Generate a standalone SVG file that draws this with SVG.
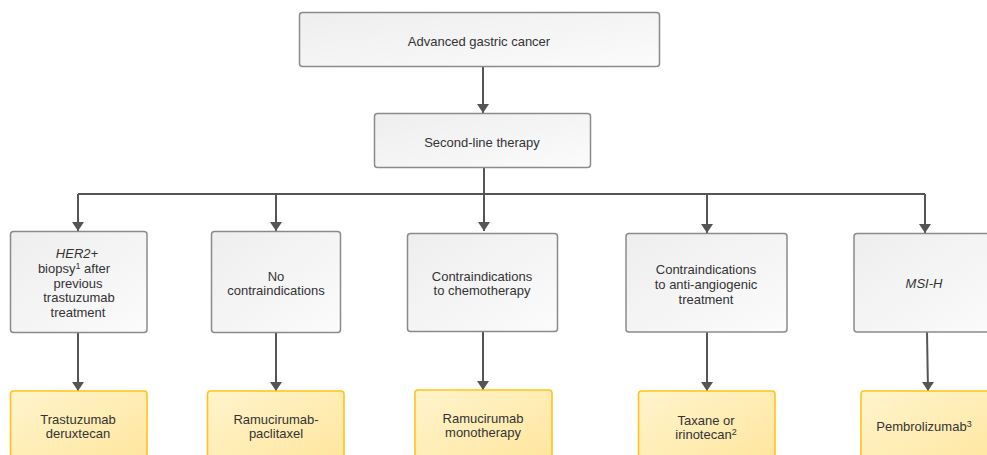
<svg xmlns="http://www.w3.org/2000/svg" width="987" height="455" viewBox="0 0 987 455">
<defs>
<linearGradient id="gGray" x1="0" y1="0" x2="1" y2="1">
<stop offset="0" stop-color="#eeeeee"/>
<stop offset="1" stop-color="#fbfbfb"/>
</linearGradient>
<linearGradient id="gYel" x1="0" y1="0" x2="1" y2="1">
<stop offset="0" stop-color="#fff4cc"/>
<stop offset="1" stop-color="#ffe59c"/>
</linearGradient>
<marker id="arr" markerUnits="userSpaceOnUse" markerWidth="14" markerHeight="10" viewBox="0 0 14 10" refX="7" refY="9" orient="auto-start-reverse">
<path d="M1,0 L13,0 L7,9 Z" fill="#555555"/>
</marker>
<marker id="arrd" markerUnits="userSpaceOnUse" markerWidth="14" markerHeight="10" viewBox="-7 -9 14 10" refX="0" refY="0" orient="0">
<path d="M-6,-9 L6,-9 L0,0 Z" fill="#555555"/>
</marker>
</defs>
<style>
.g{fill:url(#gGray);stroke:#8a8a8a;stroke-width:1.5}
.y{fill:url(#gYel);stroke:#ffc31a;stroke-width:1.6}
text{font-family:"Liberation Sans",Arial,sans-serif;font-size:13px;fill:#333333;text-anchor:middle}
.it{font-style:italic}
.sup{font-size:9px}
.c{fill:none;stroke:#555555;stroke-width:2}
</style>
<g id="connectors">
<path class="c" d="M483,67 V113" marker-end="url(#arrd)"/>
<path class="c" d="M484,167 V231" marker-end="url(#arrd)"/>
<path class="c" d="M78,194 H925"/>
<path class="c" d="M78,194 V231" marker-end="url(#arrd)"/>
<path class="c" d="M276,194 V231" marker-end="url(#arrd)"/>
<path class="c" d="M707,194 V233" marker-end="url(#arrd)"/>
<path class="c" d="M925,194 V233" marker-end="url(#arrd)"/>
<path class="c" d="M78,332 V391" marker-end="url(#arrd)"/>
<path class="c" d="M276,332 V391" marker-end="url(#arrd)"/>
<path class="c" d="M483,331 V390" marker-end="url(#arrd)"/>
<path class="c" d="M707,332 V391" marker-end="url(#arrd)"/>
<path class="c" d="M927,332 L928,391" marker-end="url(#arrd)"/>
</g>
<g id="n_advanced">
<rect class="g" x="299.5" y="12.5" width="360" height="54" rx="3"/>
<text x="479" y="46">Advanced gastric cancer</text>
</g>
<g id="n_second">
<rect class="g" x="374.5" y="113.5" width="216" height="54" rx="3"/>
<text x="482" y="147">Second-line therapy</text>
</g>
<g id="n_her2">
<rect class="g" x="10.5" y="231.5" width="136.5" height="101" rx="3"/>
<text x="77" y="258"><tspan class="it">HER2+</tspan></text>
<text x="74" y="273">biopsy<tspan class="sup" baseline-shift="4">1</tspan> after</text>
<text x="78" y="288">previous</text>
<text x="79" y="302">trastuzumab</text>
<text x="78" y="317">treatment</text>
</g>
<g id="n_nocontra">
<rect class="g" x="211.5" y="231.5" width="129" height="101" rx="3"/>
<text x="276" y="281">No</text>
<text x="276" y="295">contraindications</text>
</g>
<g id="n_chemo">
<rect class="g" x="407.5" y="233.5" width="150" height="98" rx="3"/>
<text x="482" y="281">Contraindications</text>
<text x="482" y="295">to chemotherapy</text>
</g>
<g id="n_antiang">
<rect class="g" x="626" y="233.5" width="161" height="98.5" rx="3"/>
<text x="706" y="274">Contraindications</text>
<text x="706" y="288.5">to anti-angiogenic</text>
<text x="706" y="303.5">treatment</text>
</g>
<g id="n_msi">
<rect class="g" x="854" y="233.5" width="150" height="98.5" rx="3"/>
<text x="924" y="288" class="it">MSI-H</text>
</g>
<g id="n_tdx">
<rect class="y" x="10.5" y="391" width="136.5" height="80" rx="3"/>
<text x="78" y="424">Trastuzumab</text>
<text x="78" y="438">deruxtecan</text>
</g>
<g id="n_rampac">
<rect class="y" x="207.5" y="391" width="136.5" height="80" rx="3"/>
<text x="276" y="424">Ramucirumab-</text>
<text x="276" y="438">paclitaxel</text>
</g>
<g id="n_rammono">
<rect class="y" x="415" y="390" width="137" height="80" rx="3"/>
<text x="483" y="423">Ramucirumab</text>
<text x="483" y="437">monotherapy</text>
</g>
<g id="n_taxane">
<rect class="y" x="638.5" y="391" width="136.5" height="80" rx="3"/>
<text x="706" y="424.5">Taxane or</text>
<text x="706" y="439">irinotecan<tspan class="sup" baseline-shift="4">2</tspan></text>
</g>
<g id="n_pembro">
<rect class="y" x="861" y="391" width="150" height="80" rx="3"/>
<text x="924" y="431">Pembrolizumab<tspan class="sup" baseline-shift="4">3</tspan></text>
</g>
</svg>
